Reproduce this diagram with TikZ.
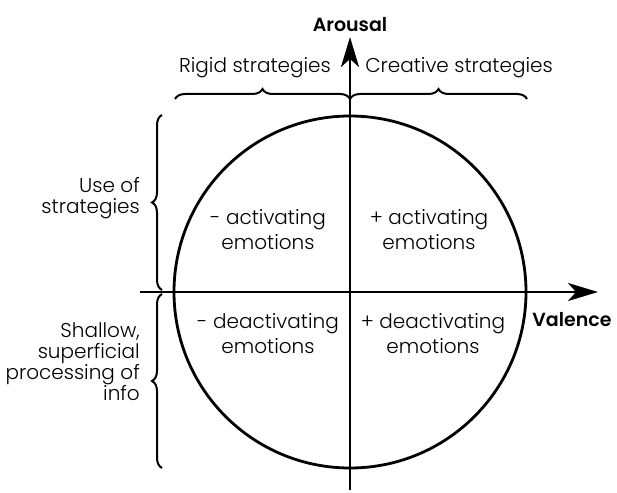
\documentclass[tikz,border=0pt]{standalone}
\usepackage{fontspec}
\setmainfont{Poppins}[UprightFont=* Light,BoldFont=* SemiBold]
\usetikzlibrary{arrows.meta,decorations.pathreplacing}

\begin{document}
\begin{tikzpicture}[x=1pt,y=-1pt,
  axis/.style={line width=2.8pt,-{Stealth[length=30pt,width=18pt,inset=8pt]}},
  ring/.style={line width=2.8pt},
  curly/.style={line width=2pt,decorate,decoration={brace,amplitude=10pt}},
  lbl/.style={font=\fontsize{20}{25}\selectfont,align=center,inner sep=0pt},
  side/.style={font=\fontsize{20}{21}\selectfont,align=right,inner sep=0pt,anchor=east},
  title/.style={font=\fontsize{19}{25}\selectfont\bfseries,inner sep=0pt}]
  \useasboundingbox (0,0) rectangle (617,492);

  % circle and axes
  \coordinate (O) at (350,292);
  \draw[ring] (O) circle[radius=176];
  \coordinate (xs) at (140,292);
  \coordinate (xe) at (598,292);
  \coordinate (ys) at (350,490);
  \coordinate (ye) at (350,37);
  \draw[axis] (xs) -- (xe);
  \draw[axis] (ys) -- (ye);

  % axis titles
  \node[title] (arousal) at (350,25) {Arousal};
  \node[title] (valence) at (572,320) {Valence};

  % quadrant labels
  \node[lbl] (qa) at (268,230) {- activating\\emotions};
  \node[lbl] (qb) at (429,230) {+ activating\\emotions};
  \node[lbl] (qc) at (268,334) {- deactivating\\emotions};
  \node[lbl] (qd) at (433,334) {+ deactivating\\emotions};

  % top braces and labels
  \coordinate (t1) at (175,99);
  \coordinate (t2) at (350,99);
  \coordinate (t3) at (527,99);
  \draw[curly] (t1) -- (t2);
  \draw[curly] (t2) -- (t3);
  \node[lbl] (rigid) at (255,68) {Rigid strategies};
  \node[lbl] (creative) at (459,68) {Creative strategies};

  % left braces and labels
  \coordinate (l1) at (162,115);
  \coordinate (l2) at (162,290);
  \coordinate (l3) at (162,294);
  \coordinate (l4) at (162,468);
  \draw[curly] (l2) -- (l1);
  \draw[curly] (l4) -- (l3);
  \node[side] (use) at (140,198) {Use of\\strategies};
  \node[side] (shallow) at (140,362) {Shallow,\\superficial\\processing of\\info};
\end{tikzpicture}
\end{document}
